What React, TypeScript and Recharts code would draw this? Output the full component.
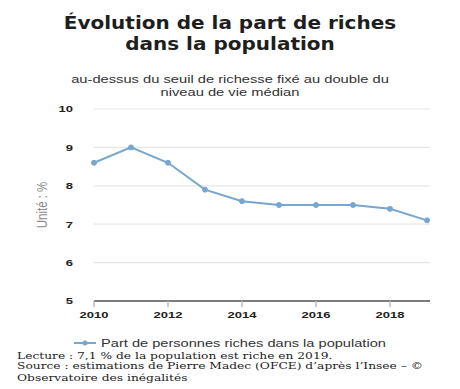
import { LineChart, Line, XAxis, YAxis, CartesianGrid, Legend } from 'recharts';

const years = [2010, 2011, 2012, 2013, 2014, 2015, 2016, 2017, 2018, 2019];
const shares = [8.6, 9.0, 8.6, 7.9, 7.6, 7.5, 7.5, 7.5, 7.4, 7.1];
const xTicks = [2010, 2012, 2014, 2016, 2018];
const yTicks = [5, 6, 7, 8, 9, 10];

const seriesName = 'Part de personnes riches dans la population';
const yLabel = 'Unité : %';
const titleLines = ['Évolution de la part de riches', 'dans la population'];
const subtitleLines = ['au-dessus du seuil de richesse fixé au double du', 'niveau de vie médian'];
const footerLines = [
  'Lecture : 7,1 % de la population est riche en 2019.',
  "Source : estimations de Pierre Madec (OFCE) d’après l’Insee – ©",
  'Observatoire des inégalités',
];

const LINE_COLOR = '#77a6d0';
const SANS = '"Liberation Sans", Arial, sans-serif';
// the source picture is squeezed vertically, so texts get a scaleY
const SQUASH = 0.74;

const data = years.map((year, i) => ({ year, value: shares[i] }));

const XTick = ({ x, y, payload }: any) => (
  <g transform={`translate(${x},${y}) scale(1,${SQUASH})`}>
    <text textAnchor="middle" dy="0.71em" fill="#222" fontSize={13} fontFamily={SANS} fontWeight="bold">
      {payload.value}
    </text>
  </g>
);

const YTick = ({ x, y, payload }: any) => (
  <g transform={`translate(${x},${y}) scale(1,${SQUASH})`}>
    <text textAnchor="end" dy="0.355em" fill="#222" fontSize={13} fontFamily={SANS} fontWeight="bold">
      {payload.value}
    </text>
  </g>
);

const YLabel = ({ viewBox }: any) => {
  const cx = viewBox.x + 2;
  const cy = viewBox.y + viewBox.height / 2;
  return (
    <g transform={`translate(${cx},${cy}) rotate(-90) scale(1,1.3)`}>
      <text textAnchor="middle" dy="0.355em" fill="#8a8a8a" fontSize={11.5} fontFamily={SANS}>
        {yLabel}
      </text>
    </g>
  );
};

const LegendContent = () => (
  <div style={{ display: 'flex', justifyContent: 'center', alignItems: 'center', height: 18, fontFamily: SANS, fontSize: 14.6, color: '#333' }}>
    <svg width={22} height={10} style={{ marginRight: 5 }}>
      <line x1={0} y1={5} x2={22} y2={5} stroke={LINE_COLOR} strokeWidth={2} />
      <circle cx={11} cy={5} r={2.5} fill={LINE_COLOR} />
    </svg>
    <span style={{ display: 'inline-block', lineHeight: '18px', transform: 'scaleY(0.8)' }}>{seriesName}</span>
  </div>
);

export default function App() {
  return (
    <div style={{ position: 'relative', width: 460, height: 389, background: '#fff', overflow: 'hidden' }}>
      <style>{'body{margin:0}'}</style>
      <div
        style={{
          position: 'absolute', top: 12.7, left: 0, width: 460, textAlign: 'center',
          fontFamily: '"DejaVu Sans", sans-serif', fontWeight: 'bold', fontSize: 20, lineHeight: '23px', color: '#1e1e1e',
          transform: 'scaleY(0.9)', transformOrigin: 'top',
        }}
      >
        {titleLines.map((t) => <div key={t}>{t}</div>)}
      </div>
      <div
        style={{
          position: 'absolute', top: 73.6, left: 0, width: 460, textAlign: 'center',
          fontFamily: SANS, fontSize: 14.7, lineHeight: '17.2px', color: '#333',
          transform: 'scaleY(0.72)', transformOrigin: 'top',
        }}
      >
        {subtitleLines.map((t) => <div key={t}>{t}</div>)}
      </div>
      <div style={{ position: 'absolute', top: 0, left: 0 }}>
        <LineChart width={460} height={353} data={data} margin={{ top: 109, right: 30, bottom: 0, left: 40 }}>
          <CartesianGrid horizontal vertical={false} stroke="#e6e6e6" strokeWidth={1.2} />
          <XAxis
            dataKey="year"
            type="number"
            domain={[2010, 2019]}
            ticks={xTicks}
            height={34}
            padding={{ left: 0, right: 3 }}
            stroke="#555"
            strokeWidth={1.5}
            tickSize={6}
            tickMargin={4}
            tickLine={{ stroke: '#bbb' }}
            tick={<XTick />}
          />
          <YAxis
            domain={[5, 10]}
            ticks={yTicks}
            width={54}
            axisLine={false}
            tickLine={false}
            tickSize={0}
            tickMargin={21}
            tick={<YTick />}
            label={<YLabel />}
          />
          <Legend
            verticalAlign="bottom"
            height={18}
            wrapperStyle={{ top: 333.7, left: 0, width: 460 }}
            content={<LegendContent />}
          />
          <Line
            type="linear"
            dataKey="value"
            name={seriesName}
            stroke={LINE_COLOR}
            strokeWidth={2}
            dot={{ r: 2.5, fill: LINE_COLOR, stroke: LINE_COLOR, strokeWidth: 1 }}
            isAnimationActive={false}
          />
        </LineChart>
      </div>
      <div
        style={{
          position: 'absolute', top: 350.9, left: 17, width: 440,
          fontFamily: '"DejaVu Serif", serif', fontSize: 12.25, lineHeight: '13.4px', color: '#222',
          transform: 'scaleY(0.8)', transformOrigin: 'top left', whiteSpace: 'nowrap',
        }}
      >
        {footerLines.map((t) => <div key={t}>{t}</div>)}
      </div>
    </div>
  );
}
